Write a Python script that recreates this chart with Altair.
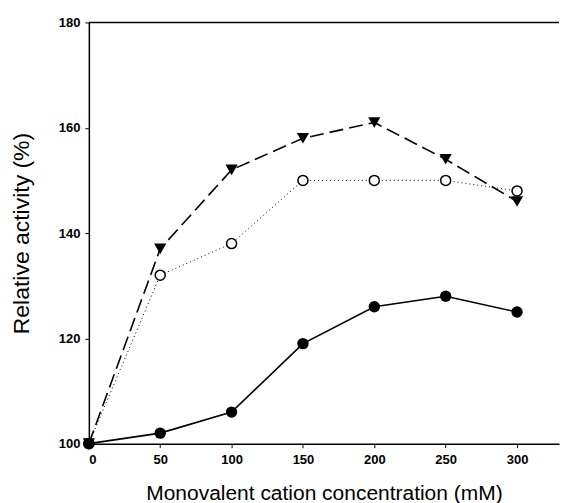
import altair as alt
import pandas as pd

conc = [0, 50, 100, 150, 200, 250, 300]
tri_vals = [100, 137, 152, 158, 161, 154, 146]
open_vals = [100, 132, 138, 150, 150, 150, 148]
filled_vals = [100, 102, 106, 119, 126, 128, 125]

x_ticks = [0, 50, 100, 150, 200, 250, 300]
y_ticks = [100, 120, 140, 160, 180]

df_tri = pd.DataFrame({"x": conc, "y": tri_vals})
df_open = pd.DataFrame({"x": conc, "y": open_vals})
df_fill = pd.DataFrame({"x": conc, "y": filled_vals})

FONT = "Liberation Sans"
W, H = 471, 422

xs = alt.Scale(domain=[0, 329.4], nice=False, zero=False)
ys = alt.Scale(domain=[100, 180], nice=False, zero=False)

xenc = alt.X("x:Q", scale=xs, axis=alt.Axis(
    values=x_ticks, title="Monovalent cation concentration (mM)",
    grid=False, domainColor="black", domainWidth=1.5, tickColor="black", tickSize=4,
    labelFont=FONT, labelFontSize=13, labelFontWeight="bold", labelColor="black",
    labelPadding=6,
    titleFont=FONT, titleFontSize=21, titleFontWeight="normal", titleColor="black",
    titlePadding=16))
yenc = alt.Y("y:Q", scale=ys, axis=alt.Axis(
    values=y_ticks, title="Relative activity (%)",
    grid=False, domainColor="black", domainWidth=1.5, tickColor="black", tickSize=4,
    labelFont=FONT, labelFontSize=13, labelFontWeight="bold", labelColor="black",
    labelPadding=5,
    titleFont=FONT, titleFontSize=23, titleFontWeight="normal", titleColor="black",
    titlePadding=25))

base_x = alt.X("x:Q", scale=xs)
base_y = alt.Y("y:Q", scale=ys)

top_rule = alt.Chart(pd.DataFrame({"a": [0]})).mark_rule(color="black", strokeWidth=1.5).encode(
    x=alt.value(0), x2=alt.value(W), y=alt.value(0))

tri_line = alt.Chart(df_tri).mark_line(color="black", strokeWidth=1.6, strokeDash=[14, 6]).encode(x=xenc, y=yenc)
tri_pts = alt.Chart(df_tri).mark_point(shape="triangle-down", filled=True, color="black", size=150, opacity=1).encode(x=base_x, y=base_y)

open_line = alt.Chart(df_open).mark_line(color="black", strokeWidth=1, strokeDash=[1, 3]).encode(x=base_x, y=base_y)
open_pts = alt.Chart(df_open).mark_point(shape="circle", filled=True, fill="white", stroke="black", strokeWidth=1.5, size=100, opacity=1).encode(x=base_x, y=base_y)

fill_line = alt.Chart(df_fill).mark_line(color="black", strokeWidth=1.6).encode(x=base_x, y=base_y)
fill_pts = alt.Chart(df_fill).mark_point(shape="circle", filled=True, color="black", size=130, opacity=1).encode(x=base_x, y=base_y)

chart = alt.layer(tri_line, open_line, fill_line, top_rule, tri_pts, open_pts, fill_pts).properties(
    width=W, height=H, padding={"left": 2, "top": 8, "right": 0, "bottom": 0}
).configure(background="white").configure_view(strokeWidth=0, stroke="white")

chart.save("out.html", embed_options={"renderer": "svg", "actions": False})
